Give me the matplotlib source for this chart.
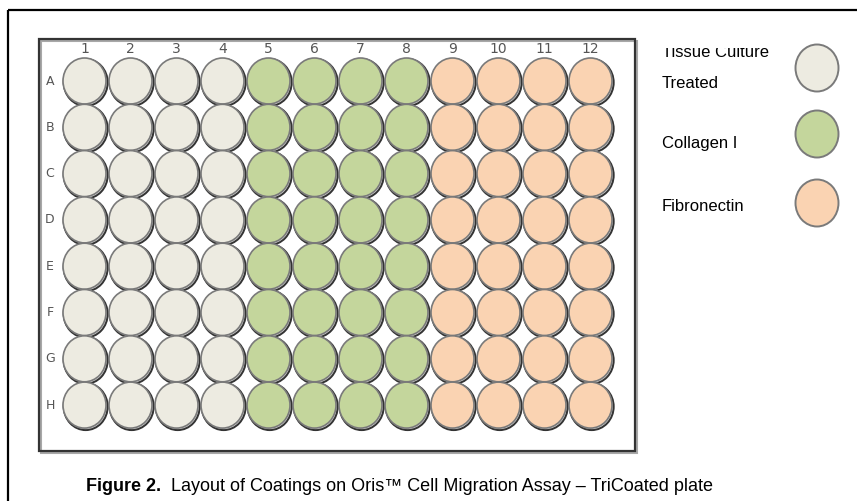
import matplotlib
matplotlib.use("Agg")
import matplotlib.pyplot as plt
from matplotlib.patches import Ellipse, Rectangle

plt.rcParams['font.family'] = ['Liberation Sans', 'DejaVu Sans']

# plate layout
rows = ["A", "B", "C", "D", "E", "F", "G", "H"]
cols = ["1", "2", "3", "4", "5", "6", "7", "8", "9", "10", "11", "12"]
coating_by_col = ["Tissue Culture Treated"] * 4 + ["Collagen I"] * 4 + ["Fibronectin"] * 4

coatings = ["Tissue Culture Treated", "Collagen I", "Fibronectin"]
legend_lines = [["Tissue Culture", "Treated"], ["Collagen I"], ["Fibronectin"]]
colors = {"Tissue Culture Treated": "#edebe1",
          "Collagen I": "#c4d69c",
          "Fibronectin": "#fad3b2"}

caption_bold = "Figure 2."
caption_rest = "  Layout of Coatings on Oris\u2122 Cell Migration Assay \u2013 TriCoated plate"

W, H = 857, 501
fig = plt.figure(figsize=(W / 100, H / 100), dpi=100)
ax = fig.add_axes([0, 0, 1, 1])
ax.set_xlim(0, W)
ax.set_ylim(H, 0)
ax.axis("off")

# outer frame (runs off the right and bottom edge)
ax.add_patch(Rectangle((8, 10), 860, 500, fill=False, ec="black", lw=1.6))

# plate outline with a soft shadow
ax.add_patch(Rectangle((41, 41), 596, 412, fill=False, ec="#a8a8a8", lw=1.5))
ax.add_patch(Rectangle((39, 39), 596, 412, fill=False, ec="#333333", lw=1.6))

x0, y0, dx, dy = 84.5, 81, 46, 46.3
ww, wh = 44, 47

for j, c in enumerate(cols):
    x = x0 + j * dx
    ax.text(x, 49, c, ha="center", va="center", fontsize=10, color="#555555",
            family=["DejaVu Sans"])
    for i, r in enumerate(rows):
        y = y0 + i * dy
        ax.add_patch(Ellipse((x + 1.2, y + 1.5), ww, wh, fc="#d8d8d8", ec="#333333", lw=1.4))
        ax.add_patch(Ellipse((x, y), ww - 1, wh - 1, fc=colors[coating_by_col[j]],
                             ec="#7a7a7a", lw=1.2))

for i, r in enumerate(rows):
    ax.text(50, y0 + i * dy, r, ha="center", va="center", fontsize=9,
            color="#555555", family=["DejaVu Sans"])

# legend
leg_y = [68, 134, 203]
text_base = [148, 211]
for k, name in enumerate(coatings):
    ax.add_patch(Ellipse((817, leg_y[k]), 43, 47, fc=colors[name], ec="#7a7a7a", lw=1.4))
    lines = legend_lines[k]
    if len(lines) == 2:
        # top of the first line is cut off in the original
        t = ax.text(662, 57, lines[0], ha="left", va="baseline", fontsize=12)
        clip = Rectangle((600, 47.5), 200, 30, transform=ax.transData)
        t.set_clip_path(clip)
        t.set_clip_on(True)
        ax.text(662, 88, lines[1], ha="left", va="baseline", fontsize=12)
    else:
        ax.text(662, text_base[k - 1], lines[0], ha="left", va="baseline", fontsize=12)

# caption
tb = ax.text(86, 491, caption_bold, ha="left", va="baseline", fontsize=13,
             fontweight="bold")
fig.canvas.draw()
bb = tb.get_window_extent()
x_end = ax.transData.inverted().transform((bb.x1, bb.y0))[0]
ax.text(x_end, 491, caption_rest, ha="left", va="baseline", fontsize=13)

fig.savefig("out.png", dpi=100)
